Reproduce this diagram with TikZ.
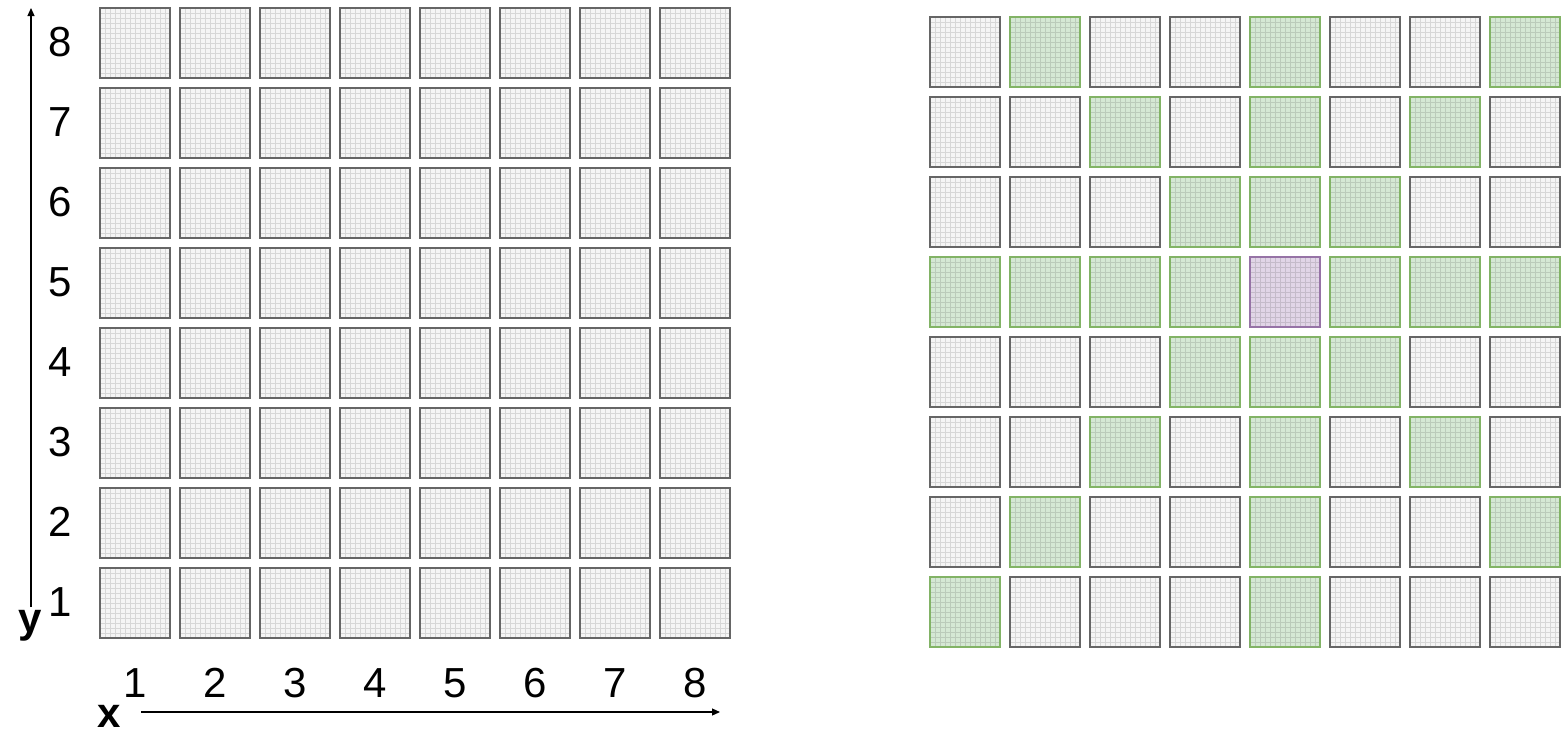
\documentclass[tikz,border=0pt]{standalone}
\usepackage{fontspec}
\setmainfont{Liberation Sans}
\usetikzlibrary{arrows.meta}
\definecolor{plainfill}{HTML}{F5F5F5}
\definecolor{plainline}{HTML}{666666}
\definecolor{movefill}{HTML}{D5E8D4}
\definecolor{moveline}{HTML}{82B366}
\definecolor{queenfill}{HTML}{E1D5E7}
\definecolor{queenline}{HTML}{9673A6}
\tikzset{
  plaincell/.style={fill=plainfill, draw=plainline, line width=0.6pt},
  movecell/.style={fill=movefill, draw=moveline, line width=0.6pt},
  queencell/.style={fill=queenfill, draw=queenline, line width=0.6pt},
  finegrid/.style={draw=black, draw opacity=0.12, line width=0.5pt, step=2.5pt},
  numlab/.style={font=\fontsize{21}{21}\selectfont, inner sep=0pt},
  axislab/.style={font=\fontsize{21}{21}\selectfont\bfseries, inner sep=0pt, anchor=base},
  axis/.style={-{Triangle[length=4pt, width=3.5pt]}, line width=0.6pt}
}
\begin{document}
\begin{tikzpicture}[x=0.5pt, y=-0.5pt]
  \useasboundingbox (0,0) rectangle (1562,740);
  % left board
  \foreach \i in {0,...,7}
    \foreach \j in {0,...,7} {
      \begin{scope}[shift={({100+80*\i},{8+80*\j})}]
        \fill[plaincell, draw=none] (0,0) rectangle (70,70);
        \draw[finegrid] (0,0) grid (70,70);
        \draw[plaincell, fill=none] (0,0) rectangle (70,70);
      \end{scope}
    }
  % right board, queen on column 5, row 5
  \foreach \i in {0,...,7}
    \foreach \j in {0,...,7} {
      \pgfmathtruncatemacro{\dc}{abs(\i-4)}
      \pgfmathtruncatemacro{\dr}{abs(\j-3)}
      \def\kind{plaincell}
      \ifnum\dc=0 \def\kind{movecell}\fi
      \ifnum\dr=0 \def\kind{movecell}\fi
      \ifnum\dc=\dr \def\kind{movecell}\fi
      \ifnum\dc=0 \ifnum\dr=0 \def\kind{queencell}\fi\fi
      \begin{scope}[shift={({930+80*\i},{17+80*\j})}]
        \fill[\kind, draw=none] (0,0) rectangle (70,70);
        \draw[finegrid] (0,0) grid (70,70);
        \draw[\kind, fill=none] (0,0) rectangle (70,70);
      \end{scope}
    }
  % axes
  \coordinate (yfoot) at (31,607);
  \coordinate (ytip) at (31,8);
  \coordinate (xfoot) at (141,712);
  \coordinate (xtip) at (720,712);
  \draw[axis] (yfoot) -- (ytip);
  \draw[axis] (xfoot) -- (xtip);
  \foreach \n in {1,...,8} {
    \node[numlab] (ylab\n) at (60,{602-80*(\n-1)}) {\n};
    \node[numlab] (xlab\n) at ({135+80*(\n-1)},683) {\n};
  }
  \node[axislab] (ylab) at (30,632) {y};
  \node[axislab] (xlab) at (109,727) {x};
\end{tikzpicture}
\end{document}
